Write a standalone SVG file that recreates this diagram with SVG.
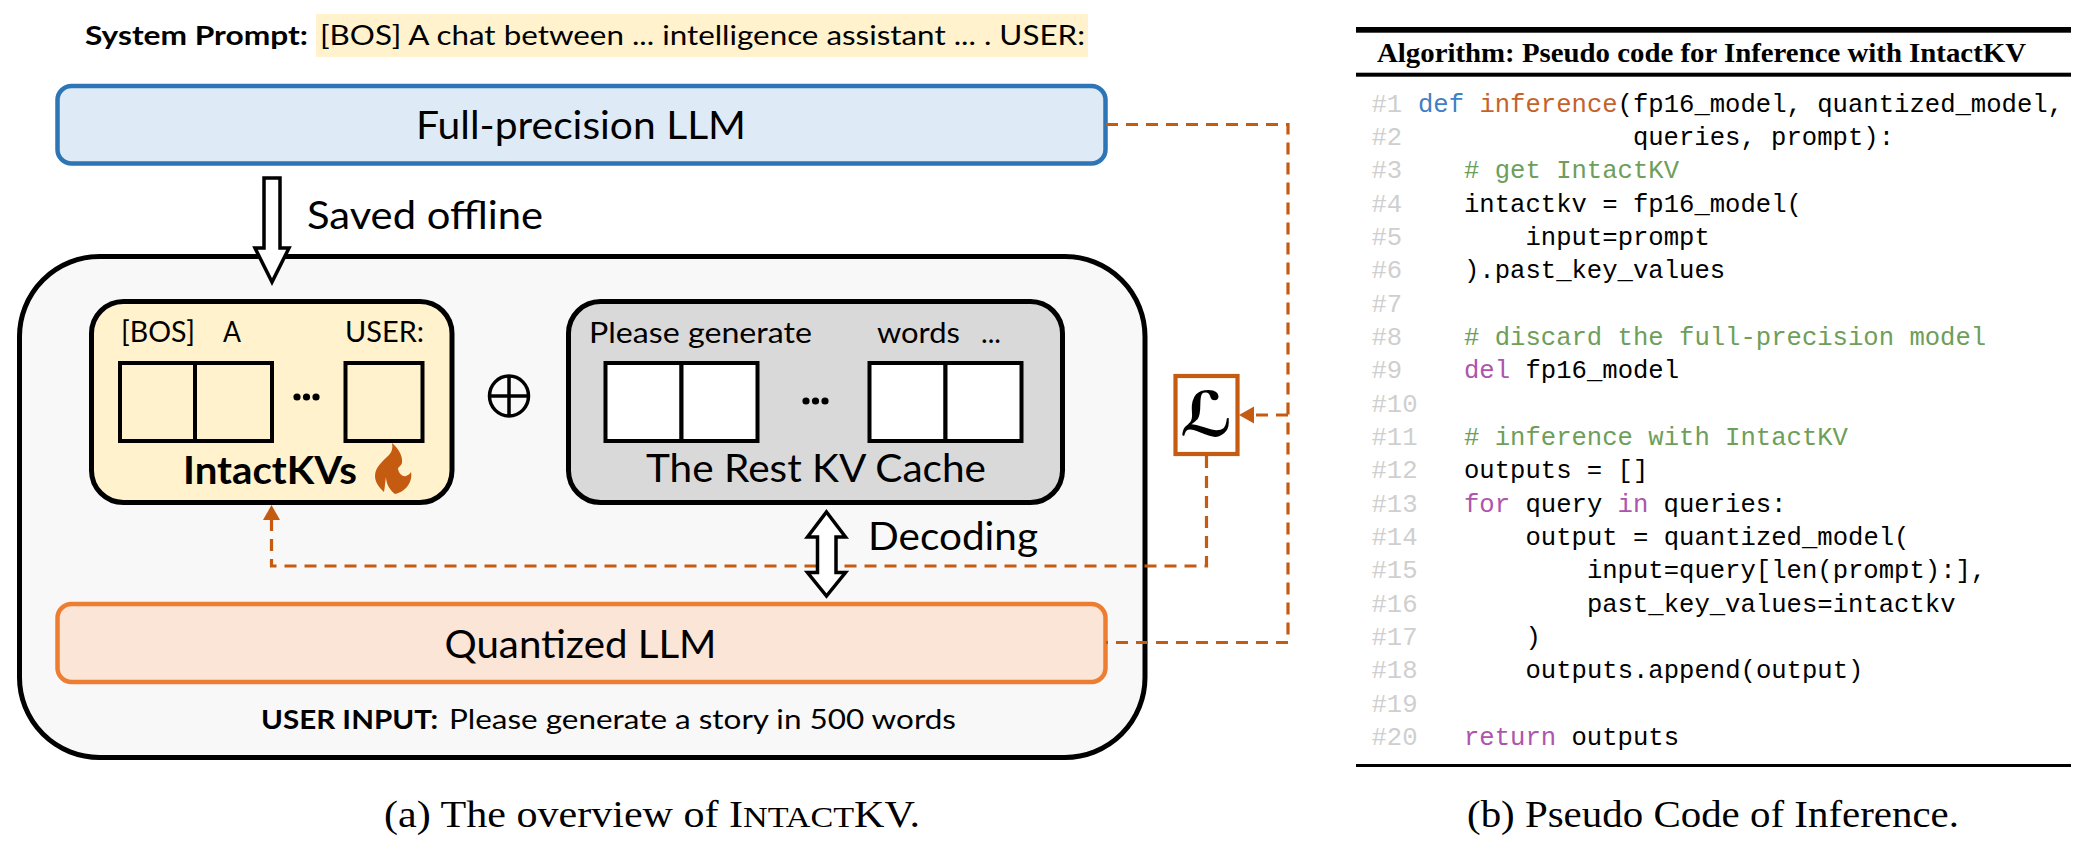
<svg xmlns="http://www.w3.org/2000/svg" width="2079" height="852" viewBox="0 0 2079 852">
<style>
text{font-family:Lato,"Liberation Sans",sans-serif;fill:#000}
.b{font-weight:700}
.s{font-family:"Liberation Serif",serif}
.m{font-family:"Liberation Mono",monospace;font-size:25.6px}
.n{fill:#cfcfcf}.k{fill:#3f7fc4}.f{fill:#c5622a}.g{fill:#6d9e5a}.p{fill:#ad55ad}
.cell{fill:none;stroke:#000;stroke-width:4}
.wcell{fill:#fff;stroke:#000;stroke-width:4}
.dash{fill:none;stroke:#c55a11;stroke-width:3.2;stroke-dasharray:12 8}
.block{fill:#fff;stroke:#000;stroke-width:3.5}
.head{fill:#c55a11}
</style>
<rect width="2079" height="852" fill="#fff"/>
<g id="system-prompt">
<rect x="316" y="14" width="772" height="43" fill="#fff2cc"/>
<text class="b" x="85" y="45" font-size="27" textLength="223" lengthAdjust="spacingAndGlyphs">System Prompt:</text>
<text x="320" y="45" font-size="27" textLength="765" lengthAdjust="spacingAndGlyphs">[BOS] A chat between ... intelligence assistant ... . USER:</text>
</g>
<g id="outer-container"><rect x="19.500" y="256.500" width="1125.500" height="501" rx="80" fill="#f8f8f8" stroke="#000" stroke-width="5"/></g>
<g id="full-precision-llm">
<rect x="57.500" y="86" width="1048" height="77.500" rx="14" fill="#deebf7" stroke="#2e75b6" stroke-width="4.500"/>
<text x="416" y="139" font-size="38" textLength="330" lengthAdjust="spacingAndGlyphs">Full-precision LLM</text>
</g>
<g id="saved-offline-label"><text x="307" y="229" font-size="38" textLength="236" lengthAdjust="spacingAndGlyphs">Saved offline</text></g>
<g id="intactkvs">
<rect x="91.500" y="301.500" width="360.500" height="201" rx="32" fill="#fff2cc" stroke="#000" stroke-width="5"/>
<text x="121" y="342" font-size="28" textLength="74" lengthAdjust="spacingAndGlyphs">[BOS]</text>
<text x="223" y="342" font-size="28" textLength="18" lengthAdjust="spacingAndGlyphs">A</text>
<text x="345" y="342" font-size="28" textLength="79" lengthAdjust="spacingAndGlyphs">USER:</text>
<rect class="cell" x="120" y="363" width="75" height="78"/>
<rect class="cell" x="195" y="363" width="77" height="78"/>
<rect class="cell" x="345.500" y="363" width="77" height="78"/>
<circle cx="297" cy="397" r="3.6"/><circle cx="306.500" cy="397" r="3.6"/><circle cx="316" cy="397" r="3.6"/>
<text class="b" x="183" y="484" font-size="38" textLength="174" lengthAdjust="spacingAndGlyphs">IntactKVs</text>
<path d="M392 443C397 447 403 455 402 463C401 466 398 467 398 469C399 474 403 477 406 476C408 475 410 474 411 472C413 481 406 492 395 494C390 490 386 484 386 477C385 482 385 487 384 492C378 487 375 481 375 476C375 467 383 461 389 455C392 452 393 448 392 443Z" fill="#c55a11"/>
</g>
<g id="oplus">
<ellipse cx="509" cy="396" rx="19.500" ry="20" fill="none" stroke="#000" stroke-width="3.500"/>
<path d="M489.500 396H528.500M509 376V416" fill="none" stroke="#000" stroke-width="3.500"/>
</g>
<g id="rest-kv-cache">
<rect x="568.500" y="301.500" width="494" height="201" rx="32" fill="#d9d9d9" stroke="#000" stroke-width="5"/>
<text x="589" y="343" font-size="28" textLength="223" lengthAdjust="spacingAndGlyphs">Please generate</text>
<text x="877" y="343" font-size="28" textLength="83" lengthAdjust="spacingAndGlyphs">words</text>
<text x="981" y="343" font-size="28" textLength="20" lengthAdjust="spacingAndGlyphs">...</text>
<rect class="wcell" x="605.500" y="363" width="76" height="78"/>
<rect class="wcell" x="681.500" y="363" width="76" height="78"/>
<rect class="wcell" x="869.500" y="363" width="76" height="78"/>
<rect class="wcell" x="945.500" y="363" width="76" height="78"/>
<circle cx="806" cy="401" r="3.6"/><circle cx="815.500" cy="401" r="3.6"/><circle cx="825" cy="401" r="3.6"/>
<text x="646" y="482" font-size="38" textLength="340" lengthAdjust="spacingAndGlyphs">The Rest KV Cache</text>
</g>
<g id="decoding-label"><text x="868" y="550" font-size="38" textLength="170" lengthAdjust="spacingAndGlyphs">Decoding</text></g>
<g id="quantized-llm">
<rect x="57.500" y="604" width="1048" height="78" rx="14" fill="#fbe5d6" stroke="#ed7d31" stroke-width="4.500"/>
<text x="444.500" y="658" font-size="38" textLength="272" lengthAdjust="spacingAndGlyphs">Quantized LLM</text>
</g>
<g id="user-input">
<text class="b" x="261" y="729" font-size="27" textLength="177" lengthAdjust="spacingAndGlyphs">USER INPUT:</text>
<text x="449" y="729" font-size="27" textLength="507" lengthAdjust="spacingAndGlyphs">Please generate a story in 500 words</text>
</g>
<g id="loss">
<rect x="1175.500" y="376" width="62" height="78" fill="#fff" stroke="#c55a11" stroke-width="4.200"/>
<text x="1206.500" y="436" font-size="62" font-style="italic" font-weight="700" text-anchor="middle" style="font-family:'DejaVu Sans',sans-serif">ℒ</text>
</g>
<g id="connectors">
<path class="dash" d="M1106 124.500H1288V642.500H1106"/>
<path class="dash" d="M1288 415H1252"/>
<path class="dash" d="M1206.500 456V566H271.500V518"/>
<path class="head" d="M1239 415L1254 406.500V423.500Z"/>
<path class="head" d="M271.500 505L263 520H280Z"/>
<path class="block" d="M264 178H280V248H289L272 282L255 248H264Z"/>
<path class="block" d="M826.500 512L845.500 537H836V572.500H845.500L826.500 596L807.500 572.500H817.500V537H807.500Z"/>
</g>
<g id="caption-a"><text class="s" x="384" y="827" font-size="37" textLength="536" lengthAdjust="spacingAndGlyphs">(a) The overview of I<tspan font-size="30">NTACT</tspan>KV.</text></g>
<g id="code-panel">
<rect x="1356" y="27" width="715" height="5.700"/>
<rect x="1356" y="72.700" width="715" height="4"/>
<rect x="1356" y="764" width="715" height="3"/>
<text class="s b" x="1377" y="61.700" font-size="27" textLength="649" lengthAdjust="spacingAndGlyphs">Algorithm: Pseudo code for Inference with IntactKV</text>
<text class="m n" x="1371.500" y="111.700">#1</text>
<text class="m n" x="1371.500" y="145">#2</text>
<text class="m n" x="1371.500" y="178.400">#3</text>
<text class="m n" x="1371.500" y="211.700">#4</text>
<text class="m n" x="1371.500" y="245">#5</text>
<text class="m n" x="1371.500" y="278.400">#6</text>
<text class="m n" x="1371.500" y="311.700">#7</text>
<text class="m n" x="1371.500" y="345">#8</text>
<text class="m n" x="1371.500" y="378.300">#9</text>
<text class="m n" x="1371.500" y="411.700">#10</text>
<text class="m n" x="1371.500" y="445">#11</text>
<text class="m n" x="1371.500" y="478.300">#12</text>
<text class="m n" x="1371.500" y="511.700">#13</text>
<text class="m n" x="1371.500" y="545">#14</text>
<text class="m n" x="1371.500" y="578.300">#15</text>
<text class="m n" x="1371.500" y="611.600">#16</text>
<text class="m n" x="1371.500" y="645">#17</text>
<text class="m n" x="1371.500" y="678.300">#18</text>
<text class="m n" x="1371.500" y="711.600">#19</text>
<text class="m n" x="1371.500" y="745">#20</text>
<text class="m k" x="1418" y="111.700">def</text>
<text class="m f" x="1479.400" y="111.700">inference</text>
<text class="m" x="1617.600" y="111.700">(fp16_model, quantized_model,</text>
<text class="m" x="1632.900" y="145">queries, prompt):</text>
<text class="m g" x="1464" y="178.400"># get IntactKV</text>
<text class="m" x="1464" y="211.700">intactkv = fp16_model(</text>
<text class="m" x="1525.500" y="245">input=prompt</text>
<text class="m" x="1464" y="278.400">).past_key_values</text>
<text class="m g" x="1464" y="345"># discard the full-precision model</text>
<text class="m p" x="1464" y="378.300">del</text>
<text class="m" x="1525.500" y="378.300">fp16_model</text>
<text class="m g" x="1464" y="445"># inference with IntactKV</text>
<text class="m" x="1464" y="478.300">outputs = []</text>
<text class="m p" x="1464" y="511.700">for</text>
<text class="m" x="1525.500" y="511.700">query</text>
<text class="m p" x="1617.600" y="511.700">in</text>
<text class="m" x="1663.600" y="511.700">queries:</text>
<text class="m" x="1525.500" y="545">output = quantized_model(</text>
<text class="m" x="1586.900" y="578.300">input=query[len(prompt):],</text>
<text class="m" x="1586.900" y="611.600">past_key_values=intactkv</text>
<text class="m" x="1525.500" y="645">)</text>
<text class="m" x="1525.500" y="678.300">outputs.append(output)</text>
<text class="m p" x="1464" y="745">return</text>
<text class="m" x="1571.500" y="745">outputs</text>
</g>
<g id="caption-b"><text class="s" x="1467" y="827" font-size="37" textLength="492" lengthAdjust="spacingAndGlyphs">(b) Pseudo Code of Inference.</text></g>
</svg>
